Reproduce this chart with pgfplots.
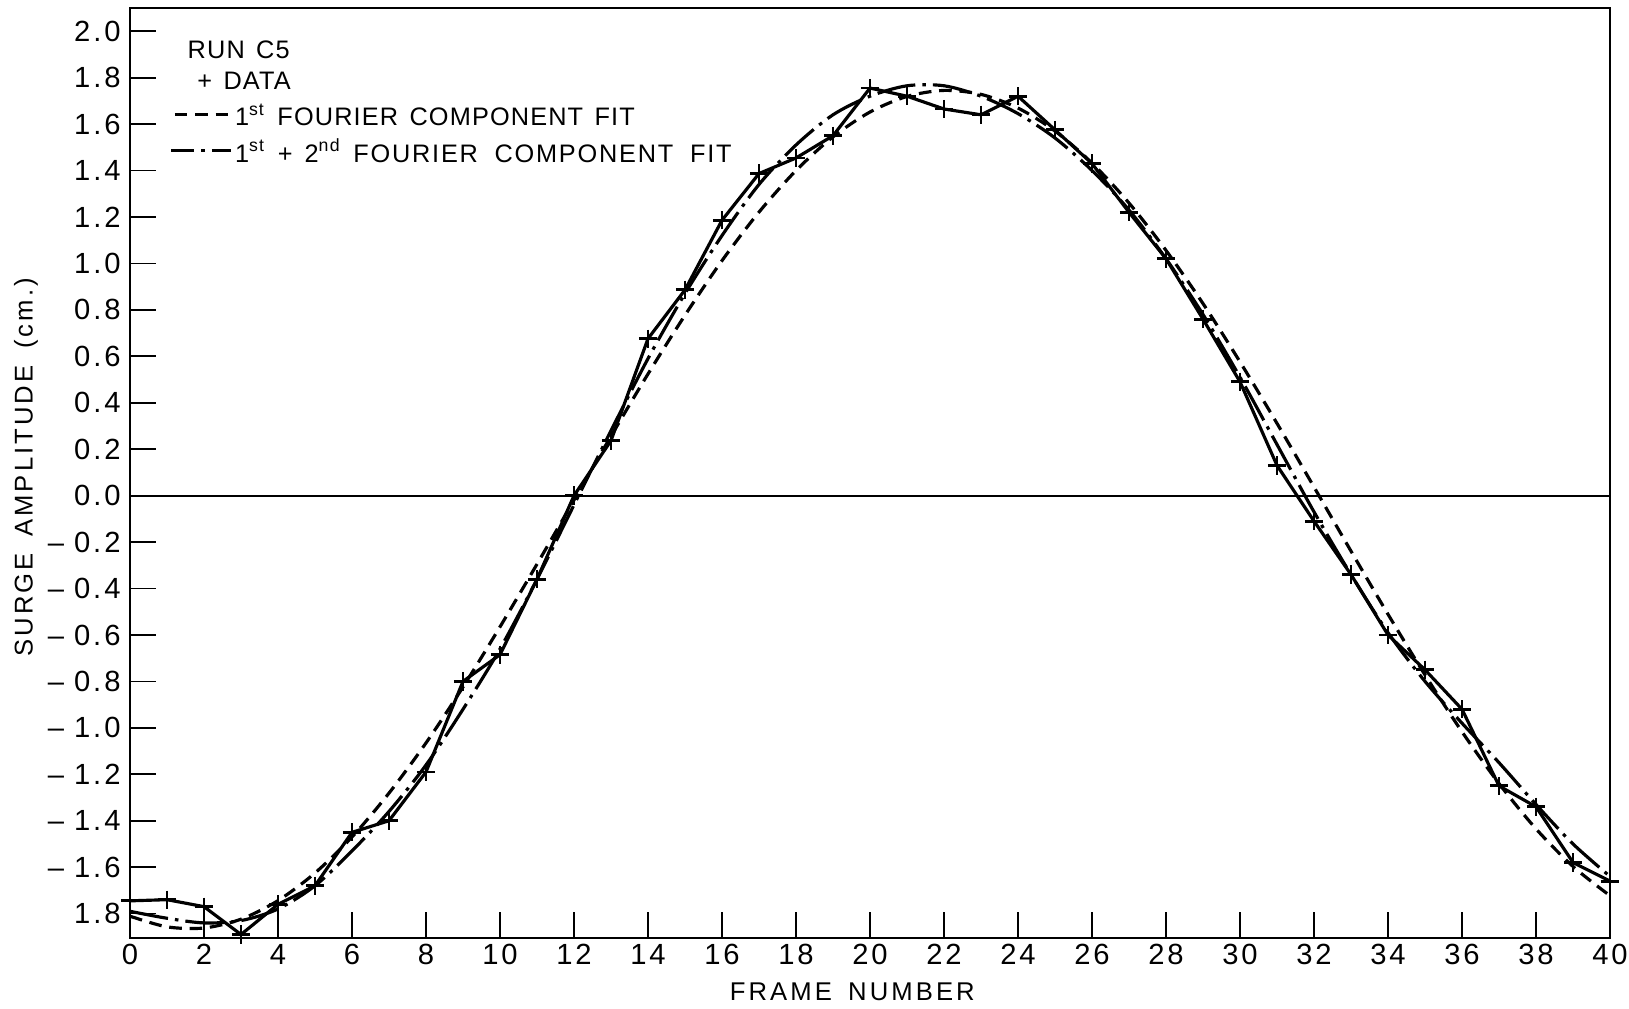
\documentclass[border=0pt]{standalone}
\usepackage{fontspec}
\setmainfont{Liberation Sans}
\newfontfamily\lett[LetterSpace=4.5,WordSpace=1.4]{Liberation Sans}
\newfontfamily\lettb[LetterSpace=7,WordSpace=1.9]{Liberation Sans}
\newfontfamily\lab[LetterSpace=12,WordSpace=1.6]{Liberation Sans}
\newfontfamily\tlab[LetterSpace=10]{Liberation Sans}
\usepackage{pgfplots}
\usepackage{pgfplotstable}
\pgfplotsset{compat=1.18}

\pgfplotstableread{
x y
0 -1.745
1 -1.74
2 -1.77
3 -1.89
4 -1.76
5 -1.68
6 -1.45
7 -1.40
8 -1.19
9 -0.80
10 -0.685
11 -0.36
12 0.00
13 0.237
14 0.676
15 0.886
16 1.186
17 1.387
18 1.454
19 1.55
20 1.755
21 1.72
22 1.665
23 1.64
24 1.72
25 1.575
26 1.43
27 1.22
28 1.02
29 0.76
30 0.49
31 0.13
32 -0.11
33 -0.34
34 -0.60
35 -0.75
36 -0.92
37 -1.25
38 -1.34
39 -1.58
40 -1.66
}\datatab

\pgfplotstableread{
x y
0 -1.811
1 -1.857
2 -1.862
3 -1.824
4 -1.744
5 -1.625
6 -1.470
7 -1.281
8 -1.065
9 -0.824
10 -0.565
11 -0.295
12 -0.019
13 0.256
14 0.524
15 0.777
16 1.012
17 1.221
18 1.400
19 1.545
20 1.652
21 1.719
22 1.745
23 1.728
24 1.669
25 1.570
26 1.432
27 1.260
28 1.056
29 0.827
30 0.576
31 0.311
32 0.037
33 -0.239
34 -0.511
35 -0.772
36 -1.017
37 -1.240
38 -1.435
39 -1.597
40 -1.723
}\firstfit

\pgfplotstableread{
x y
0 -1.79
1 -1.82
2 -1.84
3 -1.83
4 -1.78
5 -1.68
6 -1.53
7 -1.36
8 -1.16
9 -0.92
10 -0.66
11 -0.36
12 -0.04
13 0.28
14 0.59
15 0.87
16 1.12
17 1.34
18 1.51
19 1.64
20 1.72
21 1.765
22 1.765
23 1.72
24 1.645
25 1.54
26 1.40
27 1.23
28 1.02
29 0.78
30 0.51
31 0.22
32 -0.07
33 -0.34
34 -0.59
35 -0.80
36 -0.98
37 -1.15
38 -1.33
39 -1.50
40 -1.64
}\secondfit

\tikzset{
  fitA/.style={line width=0.9pt, dash pattern=on 3.6pt off 2.2pt},
  fitB/.style={line width=0.9pt, dash pattern=on 11pt off 2pt on 1pt off 2pt},
}

\begin{document}
\begin{tikzpicture}
\begin{axis}[
  name=ax,
  scale only axis,
  width=14.80cm, height=9.30cm,
  xmin=0, xmax=40, ymin=-1.905, ymax=2.1,
  xtick={0,2,...,40},
  ytick={-1.8,-1.6,-1.4,-1.2,-1.0,-0.8,-0.6,-0.4,-0.2,0,0.2,0.4,0.6,0.8,1.0,1.2,1.4,1.6,1.8,2.0},
  yticklabels={1.8,–\hspace{0.1cm}1.6,–\hspace{0.1cm}1.4,–\hspace{0.1cm}1.2,–\hspace{0.1cm}1.0,–\hspace{0.1cm}0.8,–\hspace{0.1cm}0.6,–\hspace{0.1cm}0.4,–\hspace{0.1cm}0.2,0.0,0.2,0.4,0.6,0.8,1.0,1.2,1.4,1.6,1.8,2.0},
  xtick pos=bottom, ytick pos=left,
  major tick length=0.26cm,
  tick style={line width=0.5pt, black},
  axis line style={line width=0.7pt},
  ticklabel style={font=\tlab\fontsize{8.3}{9}\selectfont},
  xticklabel style={inner sep=1.5pt},
  yticklabel style={inner sep=2.5pt},
  /pgf/number format/assume math mode=true,
  xlabel={FRAME NUMBER},
  xlabel style={at={(axis description cs:0.488,0)}, anchor=center, yshift=-0.54cm, font=\lab\fontsize{7.3}{8}\selectfont},
  ylabel={SURGE AMPLITUDE (cm.)},
  ylabel style={at={(axis description cs:-0.0703,0.506)}, anchor=center, font=\lab\fontsize{7.3}{8}\selectfont},
  clip=false,
]
\addplot[line width=0.6pt, black] coordinates {(0,0) (40,0)};
\addplot[fitA, black, smooth] table[x=x,y=y] {\firstfit};
\addplot[fitB, black, smooth] table[x=x,y=y] {\secondfit};
\addplot[line width=0.9pt, black, mark=+, mark size=2.6pt, mark options={line width=0.8pt, solid}] table[x=x,y=y] {\datatab};

\begin{scope}[every node/.style={inner sep=0pt, anchor=west, font=\lett\fontsize{7.2}{8}\selectfont}]
\node at (axis cs:1.54,1.92) {RUN C5};
\node at (axis cs:1.80,1.785) {+ DATA};
\draw[fitA] (axis cs:1.21,1.64) -- (axis cs:2.72,1.64);
\node at (axis cs:2.82,1.64) {1\textsuperscript{st}\hspace{0.12cm}FOURIER COMPONENT FIT};
\draw[line width=0.9pt, dash pattern=on 6.5pt off 2pt on 1pt off 2pt on 6pt] (axis cs:1.12,1.485) -- (axis cs:2.72,1.485);
\node[font=\lettb\fontsize{7.2}{8}\selectfont] at (axis cs:2.82,1.485) {1\textsuperscript{st}\hspace{0.12cm}+\hspace{0.12cm}2\textsuperscript{nd}\hspace{0.12cm}FOURIER COMPONENT FIT};
\end{scope}
\end{axis}
\pgfresetboundingbox
\path ([shift={(-1.30cm,-0.70cm)}]ax.south west) rectangle ([shift={(0.19cm,0.08cm)}]ax.north east);
\end{tikzpicture}
\end{document}
